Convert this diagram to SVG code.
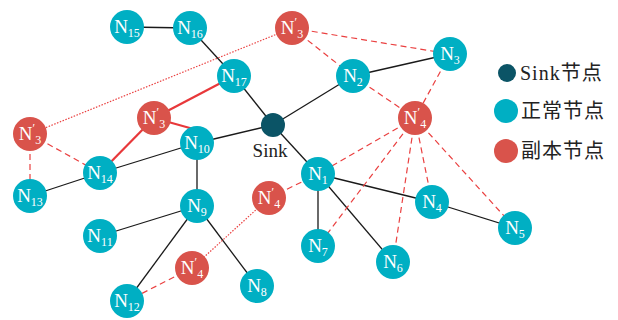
<svg xmlns="http://www.w3.org/2000/svg" width="618" height="320" viewBox="0 0 618 320">
<style>
.k{stroke:#1a1a1a;stroke-width:1.3;fill:none}
.rs{stroke:#e8383a;stroke-width:2.2;fill:none}
.rd{stroke:#ea4040;stroke-width:1.2;fill:none;stroke-dasharray:6 4}
.ro{stroke:#ea4040;stroke-width:1.2;fill:none;stroke-dasharray:1.5 1.5}
.n{fill:#00afc3}
.r{fill:#d9534b}
.s{fill:#0b5466}
.t{font-family:"Liberation Serif","Times New Roman",serif;font-size:19px;fill:#fff;text-anchor:middle}
.b{font-size:12px}
.lg{font-family:"Noto Sans CJK SC",sans-serif;font-size:20px;letter-spacing:1px;fill:#222}
.lt{font-family:"Liberation Serif","Times New Roman",serif}
.sl{font-family:"Liberation Serif","Times New Roman",serif;font-size:19px;fill:#222;text-anchor:middle}
</style>
<g id="connectors">
<line class="k" x1="127" y1="27" x2="190" y2="28"/>
<line class="k" x1="190" y1="28" x2="234" y2="76"/>
<line class="k" x1="234" y1="76" x2="273" y2="125"/>
<line class="k" x1="273" y1="125" x2="353" y2="76"/>
<line class="k" x1="353" y1="76" x2="450" y2="54"/>
<line class="k" x1="273" y1="125" x2="197" y2="143"/>
<line class="k" x1="197" y1="143" x2="100" y2="173"/>
<line class="k" x1="100" y1="173" x2="30" y2="196"/>
<line class="k" x1="197" y1="143" x2="197" y2="206"/>
<line class="k" x1="197" y1="206" x2="100" y2="236"/>
<line class="k" x1="197" y1="206" x2="127" y2="301"/>
<line class="k" x1="197" y1="206" x2="257" y2="286"/>
<line class="k" x1="273" y1="125" x2="318" y2="174"/>
<line class="k" x1="318" y1="174" x2="432" y2="202"/>
<line class="k" x1="432" y1="202" x2="515" y2="228"/>
<line class="k" x1="318" y1="174" x2="318" y2="246"/>
<line class="k" x1="318" y1="174" x2="393" y2="262"/>
<line class="rs" x1="234" y1="76" x2="154" y2="118"/>
<line class="rs" x1="154" y1="118" x2="197" y2="130"/>
<line class="rs" x1="154" y1="118" x2="100" y2="173"/>
<line class="ro" x1="292" y1="28" x2="30" y2="134"/>
<line class="ro" x1="269" y1="198" x2="192" y2="268"/>
<line class="rd" x1="30" y1="134" x2="100" y2="173"/>
<line class="rd" x1="30" y1="134" x2="30" y2="196"/>
<line class="rd" x1="292" y1="28" x2="353" y2="76"/>
<line class="rd" x1="292" y1="28" x2="450" y2="54"/>
<line class="rd" x1="450" y1="54" x2="415" y2="118"/>
<line class="rd" x1="353" y1="76" x2="415" y2="118"/>
<line class="rd" x1="415" y1="118" x2="318" y2="174"/>
<line class="rd" x1="415" y1="118" x2="318" y2="246"/>
<line class="rd" x1="415" y1="118" x2="393" y2="262"/>
<line class="rd" x1="415" y1="118" x2="432" y2="202"/>
<line class="rd" x1="415" y1="118" x2="515" y2="228"/>
<line class="rd" x1="269" y1="198" x2="318" y2="174"/>
<line class="rd" x1="192" y1="268" x2="127" y2="301"/>
</g>
<g id="sink"><circle class="s" cx="273" cy="125" r="12"/><text class="sl" x="270" y="157">Sink</text></g>
<g id="N15"><circle class="n" cx="127" cy="27" r="17"/><text class="t" x="127" y="33">N<tspan class="b" dy="4">15</tspan></text></g>
<g id="N16"><circle class="n" cx="190" cy="28" r="17"/><text class="t" x="190" y="34">N<tspan class="b" dy="4">16</tspan></text></g>
<g id="N17"><circle class="n" cx="234" cy="76" r="17"/><text class="t" x="234" y="82">N<tspan class="b" dy="4">17</tspan></text></g>
<g id="N10"><circle class="n" cx="197" cy="143" r="17"/><text class="t" x="197" y="149">N<tspan class="b" dy="4">10</tspan></text></g>
<g id="N14"><circle class="n" cx="100" cy="173" r="17"/><text class="t" x="100" y="179">N<tspan class="b" dy="4">14</tspan></text></g>
<g id="N13"><circle class="n" cx="30" cy="196" r="17"/><text class="t" x="30" y="202">N<tspan class="b" dy="4">13</tspan></text></g>
<g id="N9"><circle class="n" cx="197" cy="206" r="17"/><text class="t" x="197" y="212">N<tspan class="b" dy="4">9</tspan></text></g>
<g id="N11"><circle class="n" cx="100" cy="236" r="17"/><text class="t" x="100" y="242">N<tspan class="b" dy="4">11</tspan></text></g>
<g id="N12"><circle class="n" cx="127" cy="301" r="17"/><text class="t" x="127" y="307">N<tspan class="b" dy="4">12</tspan></text></g>
<g id="N8"><circle class="n" cx="257" cy="286" r="17"/><text class="t" x="257" y="292">N<tspan class="b" dy="4">8</tspan></text></g>
<g id="N2"><circle class="n" cx="353" cy="76" r="17"/><text class="t" x="353" y="82">N<tspan class="b" dy="4">2</tspan></text></g>
<g id="N3"><circle class="n" cx="450" cy="54" r="17"/><text class="t" x="450" y="60">N<tspan class="b" dy="4">3</tspan></text></g>
<g id="N1"><circle class="n" cx="318" cy="174" r="17"/><text class="t" x="318" y="180">N<tspan class="b" dy="4">1</tspan></text></g>
<g id="N4"><circle class="n" cx="432" cy="202" r="17"/><text class="t" x="432" y="208">N<tspan class="b" dy="4">4</tspan></text></g>
<g id="N5"><circle class="n" cx="515" cy="228" r="17"/><text class="t" x="515" y="234">N<tspan class="b" dy="4">5</tspan></text></g>
<g id="N7"><circle class="n" cx="318" cy="246" r="17"/><text class="t" x="318" y="252">N<tspan class="b" dy="4">7</tspan></text></g>
<g id="N6"><circle class="n" cx="393" cy="262" r="17"/><text class="t" x="393" y="268">N<tspan class="b" dy="4">6</tspan></text></g>
<g id="N3p-top"><circle class="r" cx="292" cy="28" r="17"/><text class="t" x="292" y="34">N<tspan class="b" dy="-8">′</tspan><tspan class="b" dy="12">3</tspan></text></g>
<g id="N3p-mid"><circle class="r" cx="154" cy="118" r="17"/><text class="t" x="154" y="124">N<tspan class="b" dy="-8">′</tspan><tspan class="b" dy="12">3</tspan></text></g>
<g id="N3p-left"><circle class="r" cx="30" cy="134" r="17"/><text class="t" x="30" y="140">N<tspan class="b" dy="-8">′</tspan><tspan class="b" dy="12">3</tspan></text></g>
<g id="N4p-right"><circle class="r" cx="415" cy="118" r="17"/><text class="t" x="415" y="124">N<tspan class="b" dy="-8">′</tspan><tspan class="b" dy="12">4</tspan></text></g>
<g id="N4p-mid"><circle class="r" cx="269" cy="198" r="17"/><text class="t" x="269" y="204">N<tspan class="b" dy="-8">′</tspan><tspan class="b" dy="12">4</tspan></text></g>
<g id="N4p-low"><circle class="r" cx="192" cy="268" r="17"/><text class="t" x="192" y="274">N<tspan class="b" dy="-8">′</tspan><tspan class="b" dy="12">4</tspan></text></g>
<g id="legend">
<circle class="s" cx="507" cy="73" r="9"/><text class="lg" x="520" y="80"><tspan class="lt">Sink</tspan>节点</text>
<circle class="n" cx="506" cy="111" r="12"/><text class="lg" x="521" y="118">正常节点</text>
<circle class="r" cx="506" cy="151" r="12"/><text class="lg" x="521" y="158">副本节点</text>
</g>
</svg>
